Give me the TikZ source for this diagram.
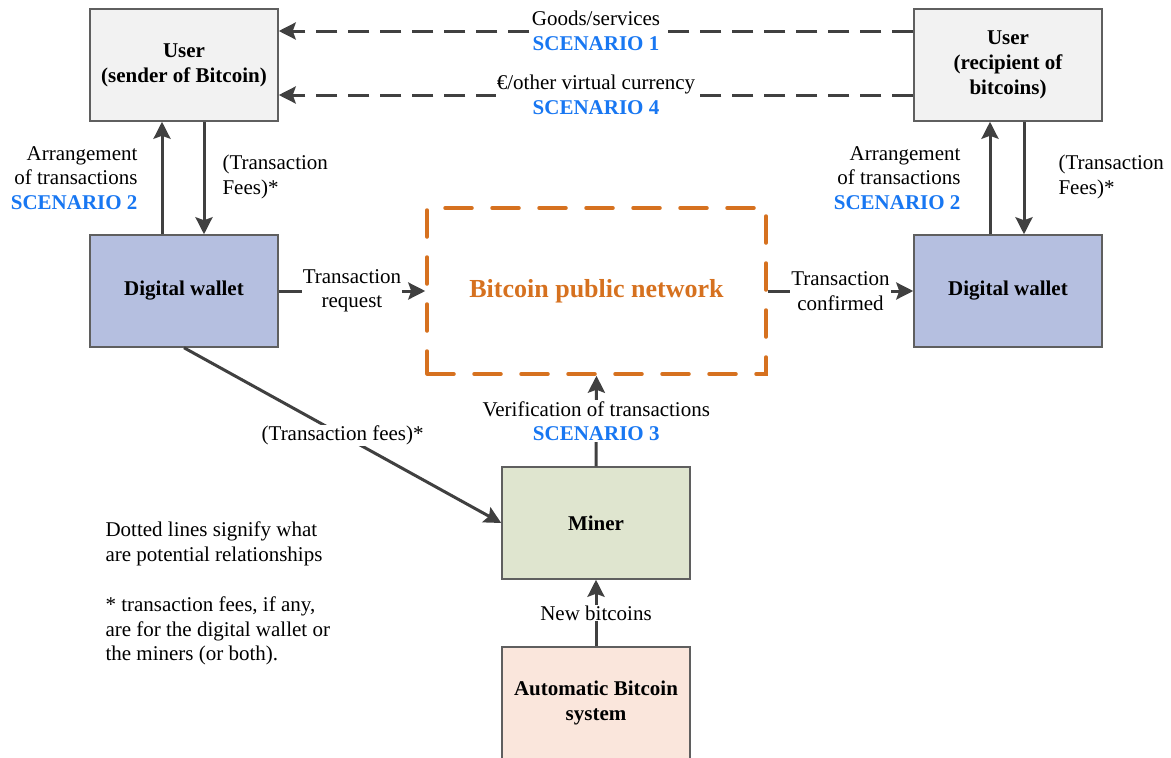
\documentclass[tikz,border=0pt]{standalone}
\usepackage{fontspec}
\setmainfont{Liberation Serif}
\usetikzlibrary{arrows.meta}
\definecolor{linegray}{HTML}{404040}
\definecolor{boxborder}{HTML}{5F5F5F}
\definecolor{userfill}{HTML}{F2F2F2}
\definecolor{walletfill}{HTML}{B5BFE0}
\definecolor{minerfill}{HTML}{DFE5CF}
\definecolor{autofill}{HTML}{FAE6DC}
\definecolor{netorange}{HTML}{D6711F}
\definecolor{scenblue}{HTML}{1877F2}
\tikzset{
  txt/.style={font=\fontsize{21}{24.5}\selectfont},
  box/.style={draw=boxborder, line width=1.5pt, minimum width=188pt, minimum height=112pt,
    align=center, font=\fontsize{21}{25}\selectfont\bfseries, inner sep=2pt},
  arr/.style={draw=linegray, line width=3pt, -{Stealth[length=17pt,width=17pt,inset=3pt]}},
  dasharr/.style={arr, dash pattern=on 21pt off 11pt},
  lbl/.style={txt, fill=white, inner sep=1pt, align=center},
  scen/.style={text=scenblue, font=\fontsize{21}{24.5}\selectfont\bfseries}
}
\begin{document}
\begin{tikzpicture}[x=1pt,y=-1pt]
\useasboundingbox (0,0) rectangle (1171,758);
% nodes
\node[box, fill=userfill] (sender) at (184,65) {User\\(sender of Bitcoin)};
\node[box, fill=userfill] (recipient) at (1008,65) {User\\(recipient of\\bitcoins)};
\node[box, fill=walletfill] (walletL) at (184,291) {Digital wallet};
\node[box, fill=walletfill] (walletR) at (1008,291) {Digital wallet};
\node[draw=netorange, line width=3.5pt, dash pattern=on 27pt off 20pt, line cap=round,
  minimum width=339pt, minimum height=166pt, text=netorange,
  font=\fontsize{26}{30}\selectfont\bfseries] (net) at (596.5,291) {Bitcoin public network};
\node[box, fill=minerfill] (miner) at (596,523) {Miner};
\node[box, fill=autofill] (auto) at (596,703) {Automatic Bitcoin\\system};
% dashed top arrows
\draw[dasharr] (recipient.west |- 0,31) -- node[lbl] {Goods/services\\{\color{scenblue}\bfseries SCENARIO 1}} (sender.east |- 0,31);
\draw[dasharr] (recipient.west |- 0,95) -- node[lbl] {\texteuro/other virtual currency\\{\color{scenblue}\bfseries SCENARIO 4}} (sender.east |- 0,95);
% left vertical
\draw[arr] (walletL.north -| 162,0) -- (sender.south -| 162,0);
\draw[arr] (sender.south -| 204,0) -- (walletL.north -| 204,0);
\node[txt, align=right, anchor=east] (arrL) at (141,178) {Arrangement\\of transactions\\{\color{scenblue}\bfseries SCENARIO 2}};
\node[txt, align=left, anchor=west] (feeL) at (219,177) {(Transaction\\Fees)*};
% right vertical
\draw[arr] (walletR.north -| 990,0) -- (recipient.south -| 990,0);
\draw[arr] (recipient.south -| 1024,0) -- (walletR.north -| 1024,0);
\node[txt, align=right, anchor=east] (arrR) at (964,178) {Arrangement\\of transactions\\{\color{scenblue}\bfseries SCENARIO 2}};
\node[txt, align=left, anchor=west] (feeR) at (1055,177) {(Transaction\\Fees)*};
% horizontal
\draw[arr] (walletL.east) -- node[lbl] {Transaction\\request} (net.west);
\draw[arr] (net.east) -- node[lbl] {Transaction\\confirmed} (walletR.west);
% miner
\draw[arr] (miner.north) -- node[lbl] {Verification of transactions\\{\color{scenblue}\bfseries SCENARIO 3}} (net.south);
\draw[arr] (walletL.south) -- node[lbl] {(Transaction fees)*} (miner.west);
\draw[arr] (auto.north) -- node[lbl] {New bitcoins} (miner.south);
% notes
\node[txt, align=left, anchor=west] (note1) at (102,544) {Dotted lines signify what\\are potential relationships};
\node[txt, align=left, anchor=west] (note2) at (102,631) {* transaction fees, if any,\\are for the digital wallet or\\the miners (or both).};
\end{tikzpicture}
\end{document}
